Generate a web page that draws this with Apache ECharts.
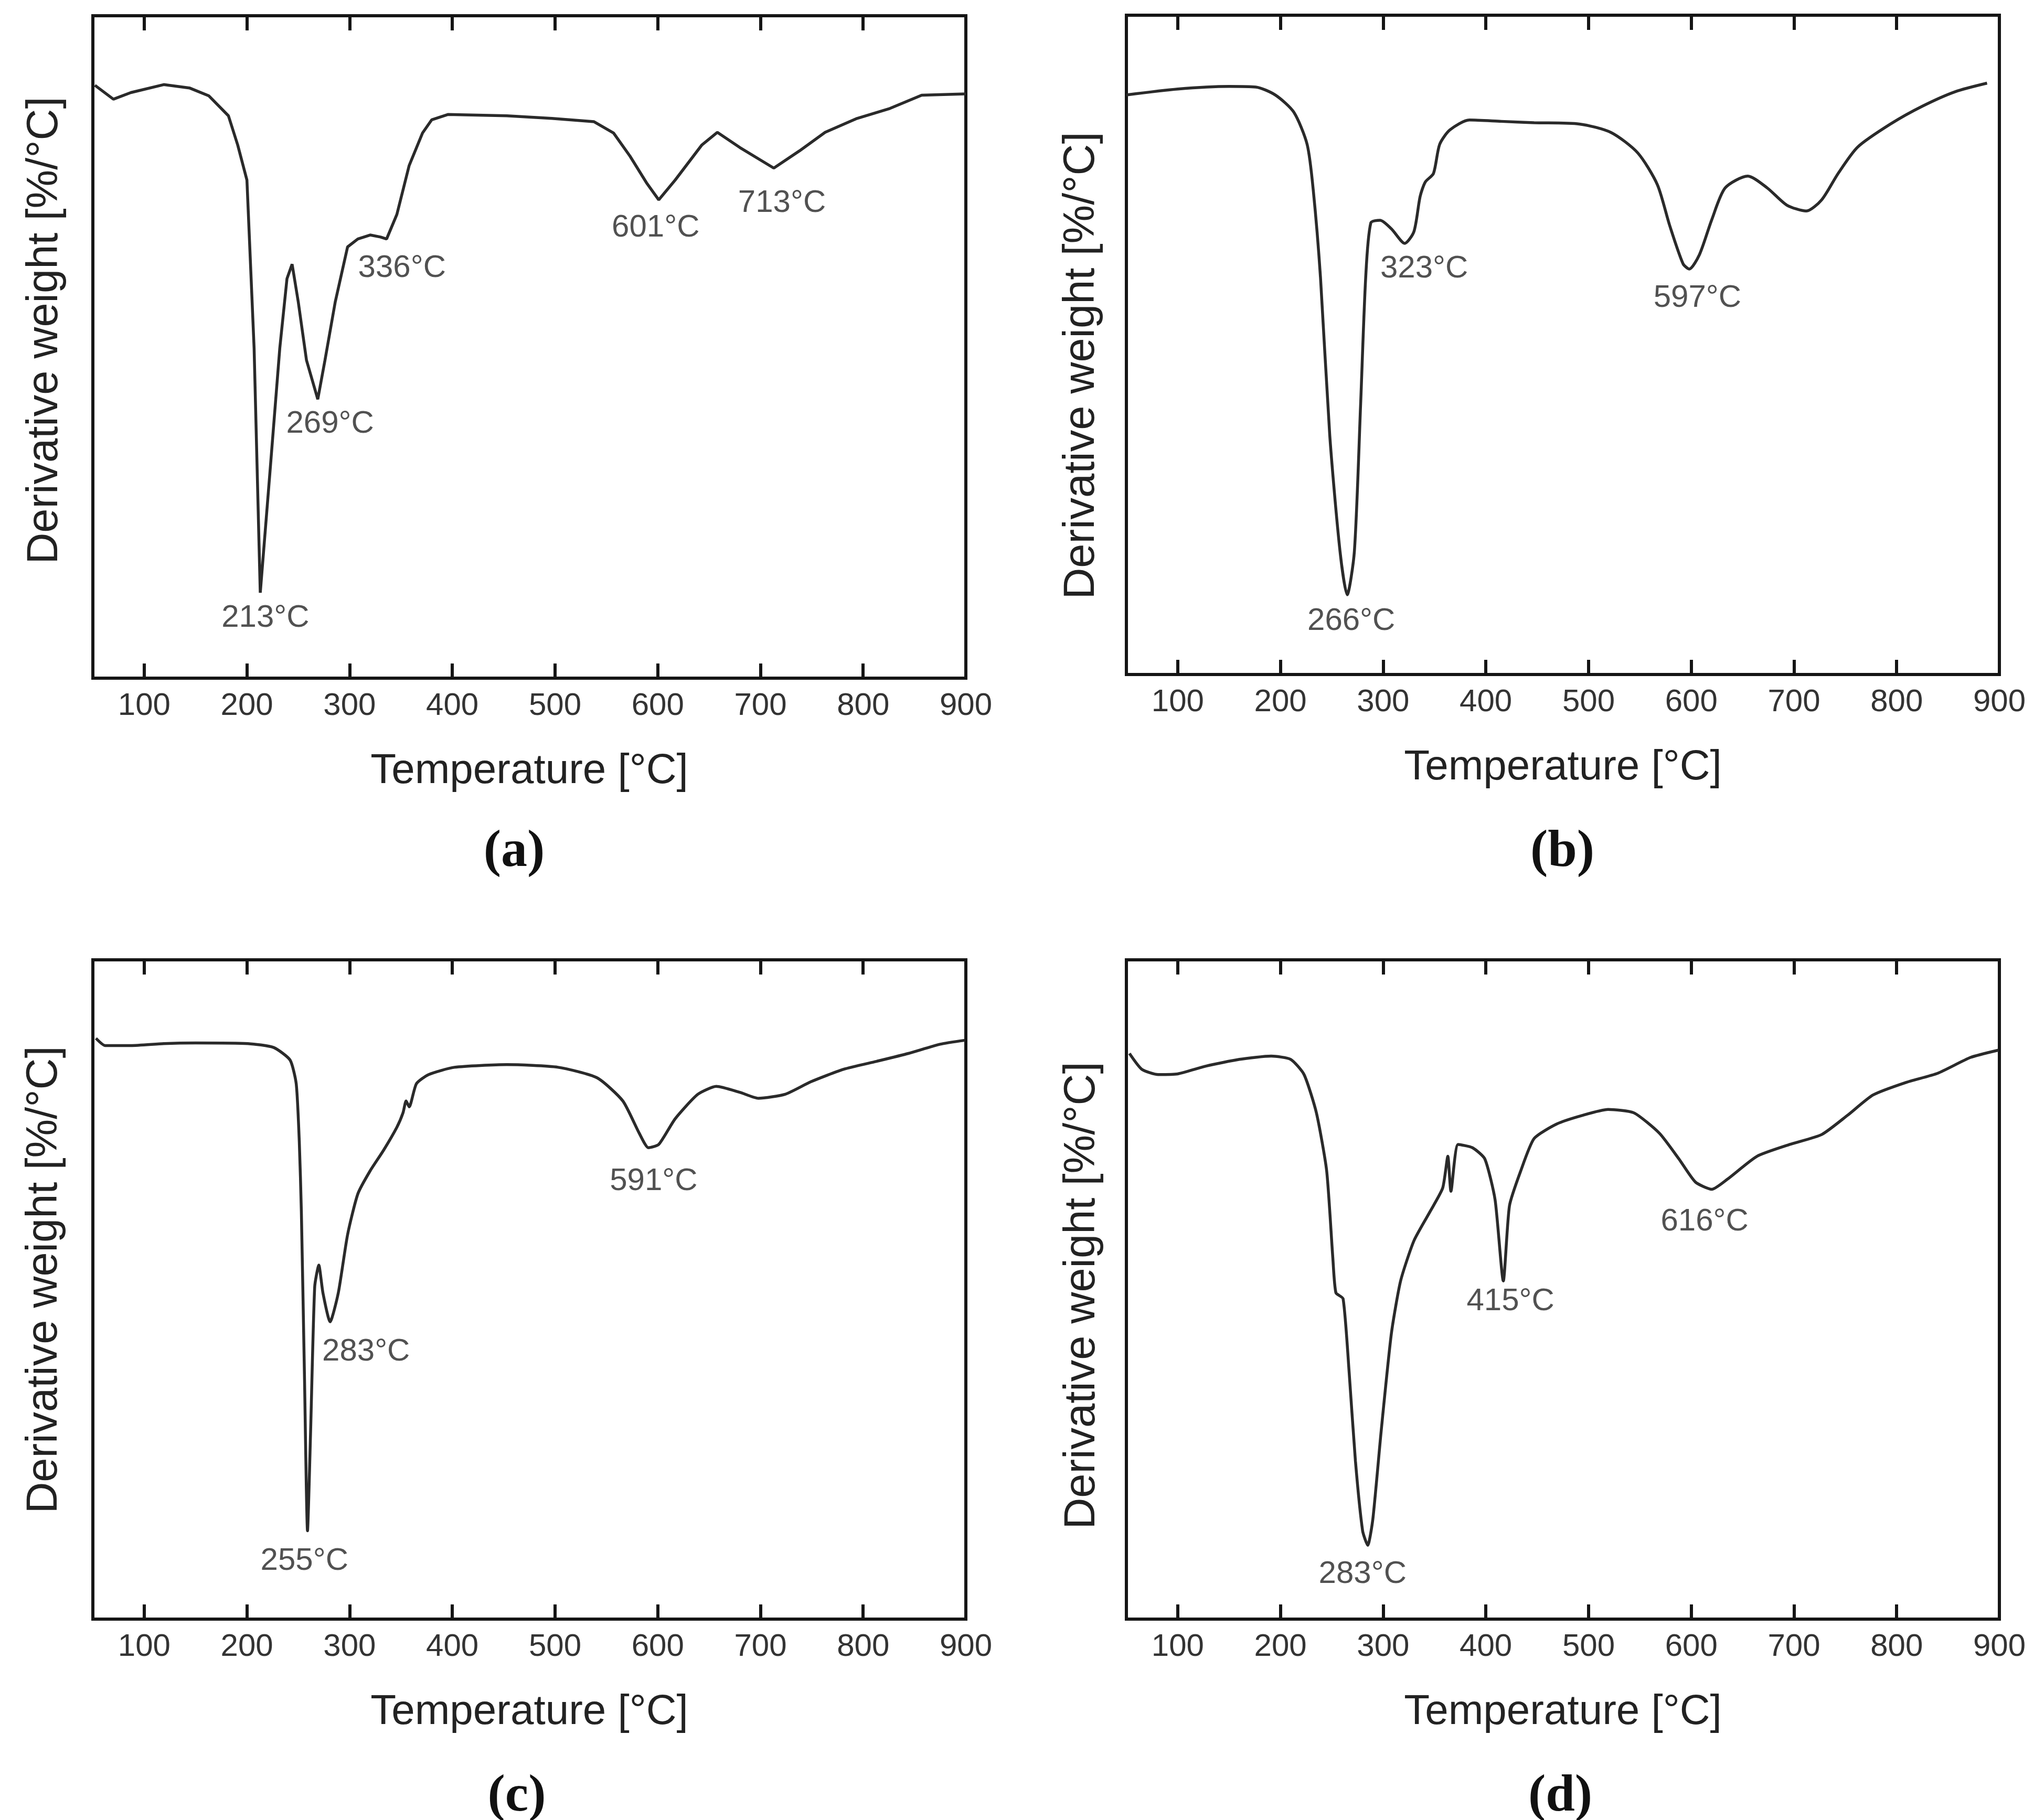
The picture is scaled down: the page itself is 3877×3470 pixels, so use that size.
<!DOCTYPE html>
<html><head><meta charset="utf-8">
<script src="https://cdn.jsdelivr.net/npm/echarts@6/dist/echarts.min.js"></script>
<style>html,body{margin:0;padding:0;background:#fff}#c{width:3877px;height:3470px}</style>
</head><body><div id="c"></div>
<script>
// ---------- data ----------
const xTickValues = [100, 200, 300, 400, 500, 600, 700, 800, 900];

// (a)
const tempA = [52,70,87,119,144,163,182,191,200,207,213,223,232,239,244,250,258,269,276,286,298,308,320,330,336,346,358,371,380,396,453,497,538,557,573,589,601,617,643,658,680,713,738,763,794,826,857,900];
const dtgA  = [89.5,87.4,88.4,89.6,89.1,87.9,84.9,80.5,75.2,49.8,12.9,32.2,49.8,60.3,62.5,56.8,48.0,42.1,48.0,56.8,65.1,66.3,66.9,66.6,66.3,70.0,77.4,82.3,84.3,85.1,84.9,84.5,84.0,82.3,78.8,74.8,72.2,75.2,80.5,82.4,80.1,77.0,79.6,82.4,84.5,86.0,88.0,88.2];
const peakTextA = ['213°C','269°C','336°C','601°C','713°C'];
const peakTA = [218, 281, 351, 598, 721];
const peakYA = [9.1, 38.4, 61.9, 68.0, 71.7];

// (b)
const tempB = [50,100,150,176,195,213,226,232,239,248,258,265,272,278,283,288,297,308,321,330,336,341,349,355,365,384,415,447,491,522,548,567,579,592,598,608,620,633,655,674,693,712,727,743,762,794,825,857,888];
const dtgB  = [87.9,88.8,89.2,89.1,87.9,85.3,80.4,73.4,60.2,36.3,18.7,12.1,18.7,40.7,60.2,68.5,68.9,67.6,65.4,67.2,72.5,74.7,76.0,80.4,82.6,84.1,83.9,83.7,83.5,82.2,79.1,74.3,68.1,62.3,61.5,63.7,69.0,73.8,75.6,73.8,71.2,70.3,72.0,76.0,80.0,83.5,86.2,88.4,89.7];
const peakTextB = ['266°C','323°C','597°C'];
const peakTB = [269, 340, 606];
const peakYB = [8.1, 61.5, 57.1];

// (c)
const tempC = [53,62,87,119,150,201,226,242,248,251,253,256,259,262,266,270,274,281,289,298,308,320,333,346,352,355,358,365,377,402,453,503,541,566,582,591,601,617,639,657,680,698,724,749,781,813,844,875,899];
const dtgC  = [88.1,87.0,87.0,87.3,87.4,87.3,86.7,84.8,81.2,72.4,61.9,37.2,13.4,28.4,50.4,53.7,49.5,45.1,49.5,58.3,64.5,68.0,71.1,74.6,76.8,78.6,77.7,81.2,82.6,83.7,84.1,83.7,82.1,78.6,73.7,71.5,72.0,75.9,79.6,80.8,79.9,79.0,79.6,81.5,83.4,84.6,85.8,87.2,87.8];
const peakTextC = ['255°C','283°C','591°C'];
const peakTC = [256, 316, 596];
const peakYC = [8.8, 40.5, 66.4];

// (d)
const tempD = [53,65,81,100,128,160,191,210,223,235,245,251,254,261,267,273,280,285,290,298,308,317,330,346,358,363,366,373,387,399,409,417,423,434,447,469,494,519,544,569,588,604,620,635,664,696,727,752,777,809,840,872,899];
const dtgD  = [85.8,83.4,82.6,82.7,83.9,84.9,85.4,84.9,82.6,76.8,68.0,54.8,49.5,48.6,37.2,24.0,13.4,11.2,15.2,28.4,43.3,51.3,57.4,61.9,65.4,70.2,64.9,72.0,71.5,69.8,63.6,51.3,62.7,68.0,72.9,75.1,76.4,77.3,76.8,73.7,69.8,66.3,65.2,66.7,70.2,72.0,73.5,76.4,79.5,81.4,82.8,85.2,86.3];
const peakTextD = ['283°C','415°C','616°C'];
const peakTD = [280, 424, 613];
const peakYD = [6.8, 48.2, 60.3];

const panelLetters = ['(a)', '(b)', '(c)', '(d)'];
const xAxisTitle = 'Temperature [°C]';
const yAxisTitle = 'Derivative weight [%/°C]';

// ---------- build ----------
const panels = [
  {t: tempA, v: dtgA, pt: peakTextA, px: peakTA, py: peakYA, smooth: false},
  {t: tempB, v: dtgB, pt: peakTextB, px: peakTB, py: peakYB, smooth: 0.25},
  {t: tempC, v: dtgC, pt: peakTextC, px: peakTC, py: peakYC, smooth: 0.2},
  {t: tempD, v: dtgD, pt: peakTextD, px: peakTD, py: peakYD, smooth: 0.2}
];
const grids = [
  {left: 177, top: 30, width: 1664, height: 1263},
  {left: 2147, top: 29, width: 1664, height: 1257},
  {left: 177, top: 1830, width: 1664, height: 1257},
  {left: 2147, top: 1830, width: 1664, height: 1257}
];
const yLabelPos = [[86, 630], [2062, 697], [85, 2440], [2063, 2470]];
const letterPos = [[980, 1625], [2978, 1625], [985, 3426], [2974, 3426]];

const FONT = '"Liberation Sans", Arial, Helvetica, sans-serif';
const frameColor = '#151515';

const option = {
  animation: false,
  backgroundColor: '#ffffff',
  grid: grids.map(g => Object.assign({show: true, borderColor: frameColor, borderWidth: 6, backgroundColor: 'transparent', containLabel: false}, g)),
  xAxis: [],
  yAxis: [],
  series: [],
  graphic: []
};

panels.forEach((p, i) => {
  option.xAxis.push({
    type: 'value', gridIndex: i, min: 50, max: 900, position: 'bottom',
    axisLine: {show: false},
    axisTick: {show: true, inside: true, length: 28, customValues: xTickValues, lineStyle: {color: frameColor, width: 6}},
    axisLabel: {show: true, customValues: xTickValues, margin: 23, fontSize: 60, color: '#333', fontFamily: FONT},
    splitLine: {show: false},
    name: xAxisTitle, nameLocation: 'middle', nameGap: 138,
    nameTextStyle: {fontSize: 80, color: '#222', fontFamily: FONT}
  });
  option.xAxis.push({
    type: 'value', gridIndex: i, min: 50, max: 900, position: 'top',
    axisLine: {show: false},
    axisTick: {show: true, inside: true, length: 28, customValues: xTickValues, lineStyle: {color: frameColor, width: 6}},
    axisLabel: {show: false},
    splitLine: {show: false}
  });
  option.yAxis.push({
    type: 'value', gridIndex: i, min: 0, max: 100,
    axisLine: {show: false}, axisTick: {show: false}, axisLabel: {show: false}, splitLine: {show: false}
  });
  option.series.push({
    type: 'line', xAxisIndex: 2 * i, yAxisIndex: i,
    data: p.t.map((t, k) => [t, p.v[k]]),
    showSymbol: false, smooth: p.smooth, silent: true,
    lineStyle: {color: '#2a2a2a', width: 5.5}
  });
  option.series.push({
    type: 'scatter', xAxisIndex: 2 * i, yAxisIndex: i, silent: true,
    symbolSize: 1, itemStyle: {color: 'rgba(0,0,0,0)'},
    data: p.pt.map((txt, k) => ({name: txt, value: [p.px[k], p.py[k]]})),
    label: {show: true, position: 'inside', formatter: '{b}', fontSize: 60, color: '#262626', fontFamily: FONT}
  });
  option.graphic.push({
    type: 'text', x: yLabelPos[i][0], y: yLabelPos[i][1], rotation: Math.PI / 2, silent: true,
    style: {text: yAxisTitle, fill: '#222', font: '83px ' + FONT, textAlign: 'center', textVerticalAlign: 'middle'}
  });
  option.graphic.push({
    type: 'text', x: letterPos[i][0], y: letterPos[i][1], silent: true,
    style: {text: panelLetters[i], fill: '#111', font: 'bold 100px "Liberation Serif", "Times New Roman", serif', textAlign: 'center', textVerticalAlign: 'middle'}
  });
});

const chart = echarts.init(document.getElementById('c'), null, {renderer: 'canvas'});
chart.setOption(option);
</script></body></html>
